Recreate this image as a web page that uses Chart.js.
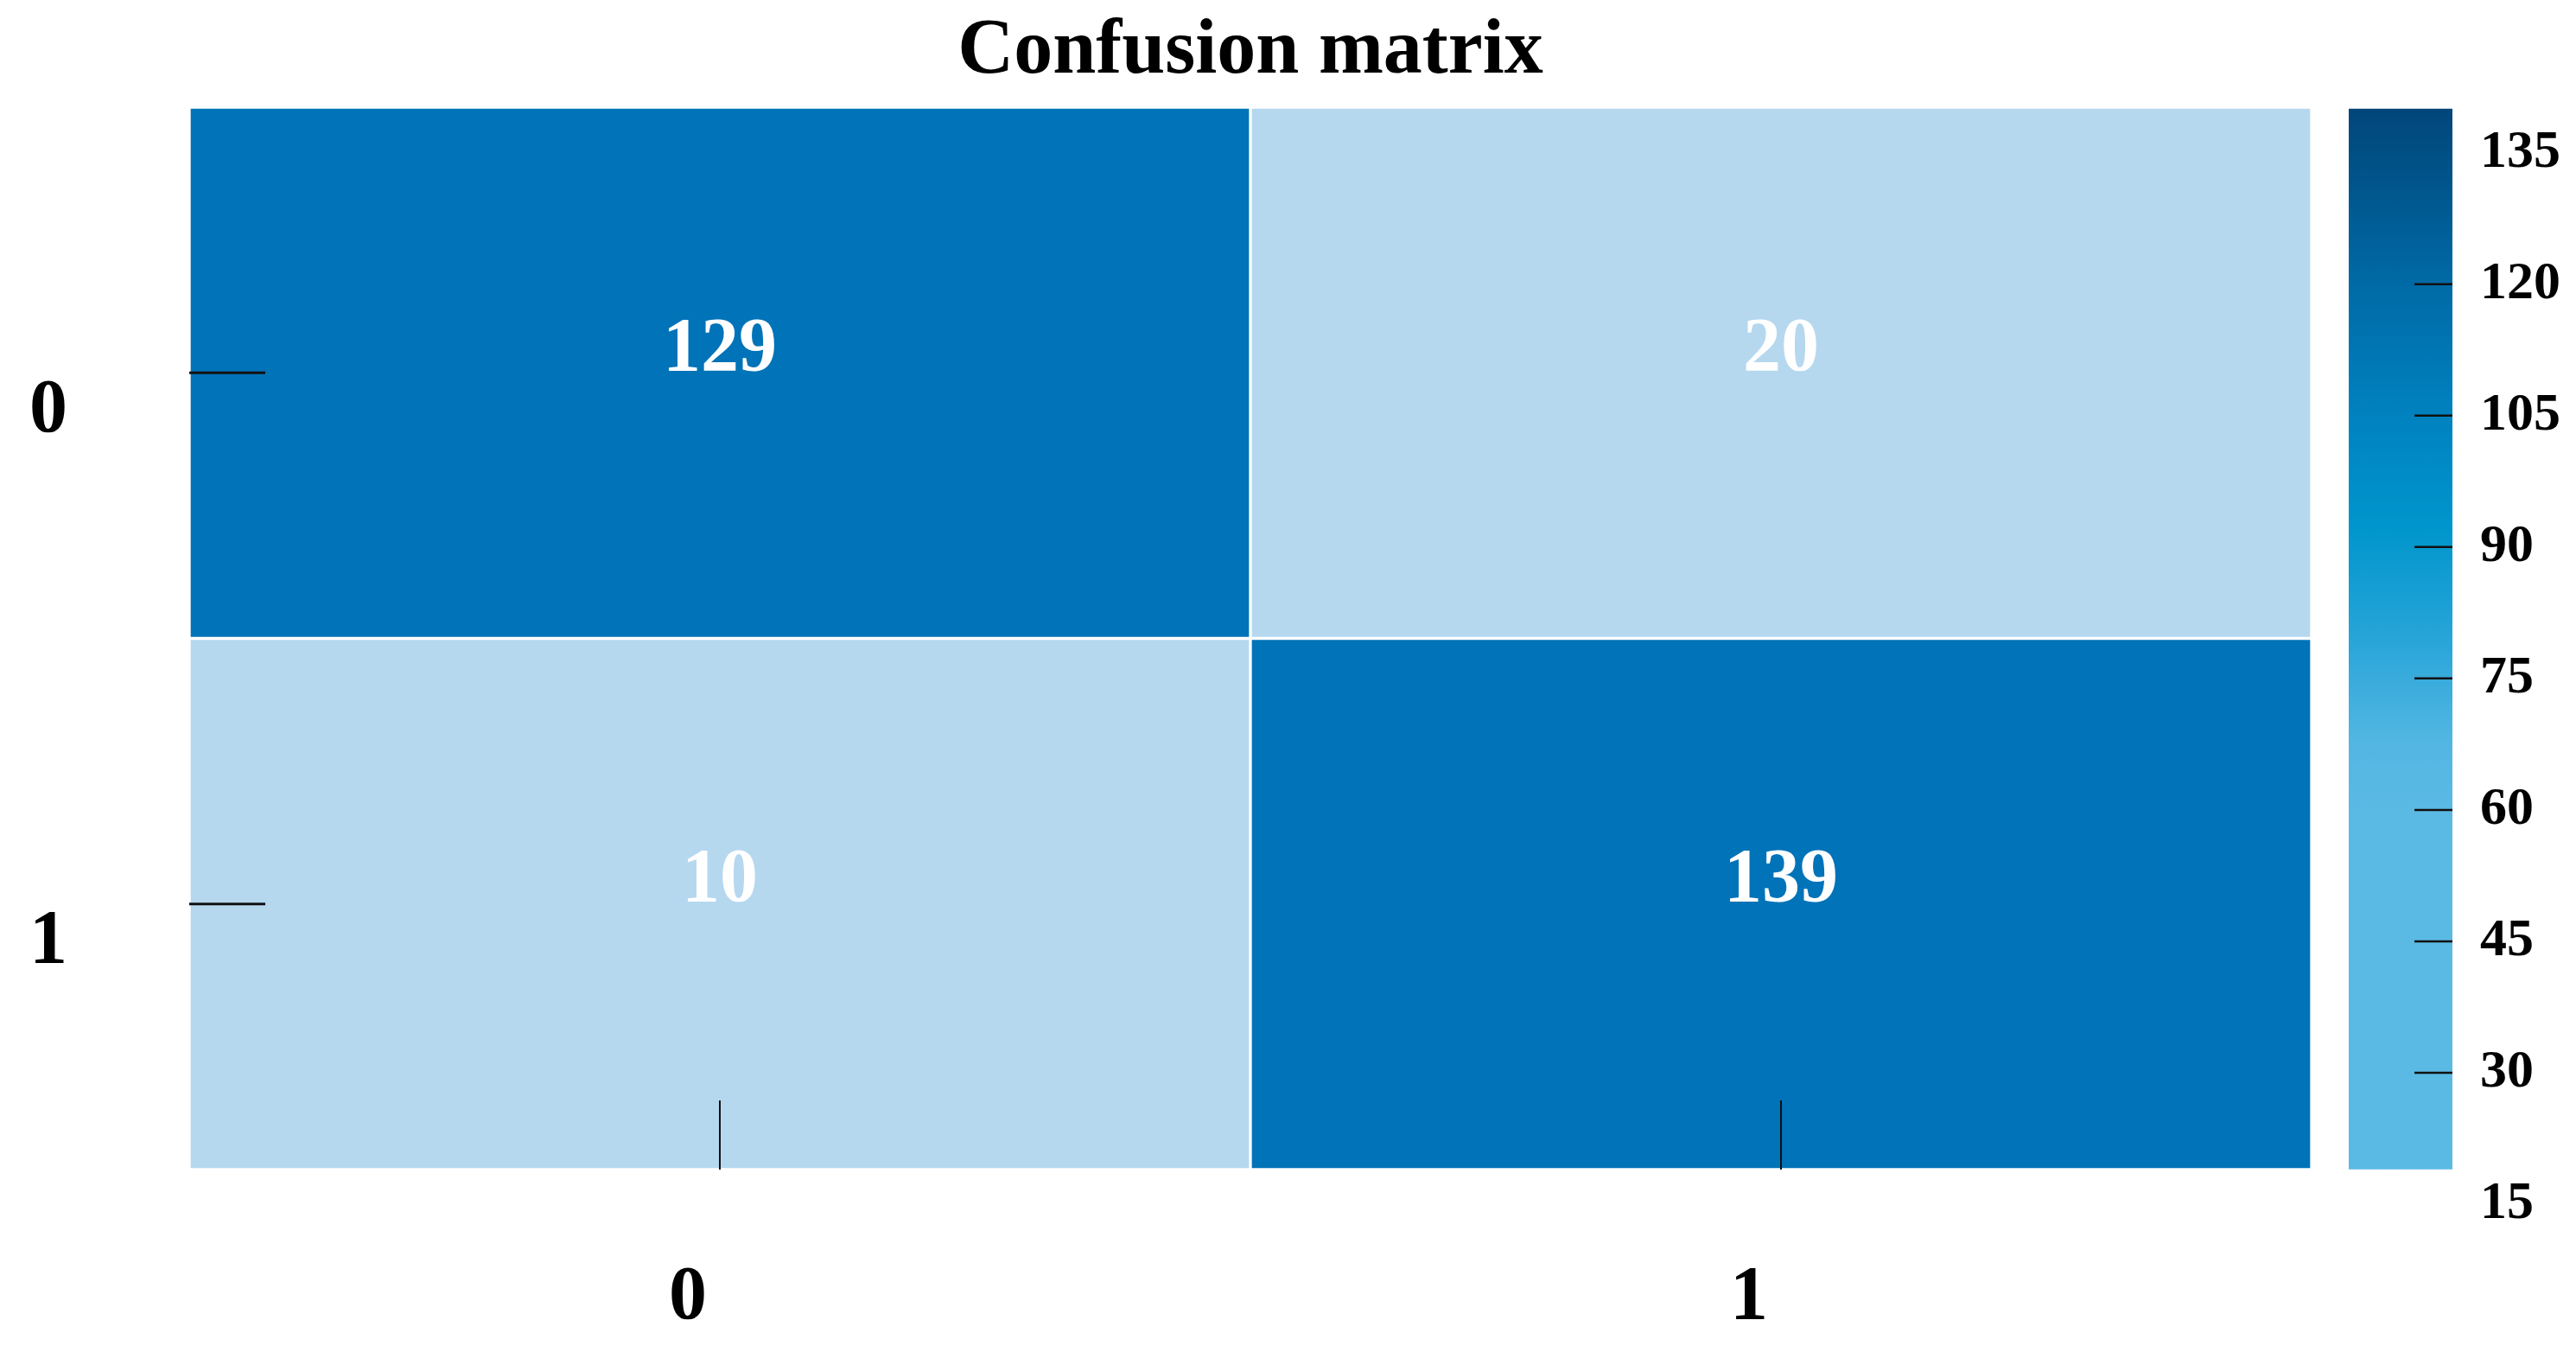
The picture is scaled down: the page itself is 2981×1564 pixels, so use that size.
<!DOCTYPE html>
<html lang="en">
<head>
    <meta charset="UTF-8">
    <title>Confusion matrix</title>
    <style>
        body {
            margin: 0;
            background-color: #ffffff;
        }
        .wrap {
            position: relative;
            width: 2981px;
            height: 1564px;
            overflow: hidden;
        }
        canvas {
            position: absolute;
            top: 0;
        }
        #matrixChart { left: 0; }
        #barChart { left: 2700px; }
    </style>
</head>
<body>
    <div class="wrap">
        <canvas id="matrixChart" width="2700" height="1564"></canvas>
        <canvas id="barChart" width="281" height="1564"></canvas>
    </div>

    <script src="https://cdn.jsdelivr.net/npm/chart.js"></script>
    <script>
        // data
        const rowLabels = ['0', '1'];
        const colLabels = ['0', '1'];
        const row0 = [129, 20];
        const row1 = [10, 139];
        const colorbarTicks = [15, 30, 45, 60, 75, 90, 105, 120, 135];
        const cbMin = 19;
        const cbMax = 140;

        const serif = "'Liberation Serif', 'Times New Roman', serif";

        function cellColor(v) {
            return v > 75 ? '#0173b8' : '#b5d8ef';
        }

        // colormap stops for the colour bar (value, colour)
        const cmap = [
            [140, '#02467a'], [128, '#005b93'], [120, '#006aa6'], [105, '#0082bf'],
            [92, '#0096cc'], [80, '#26a4d8'], [68, '#52b6e2'], [60, '#5bbae4'], [19, '#5bbae4']
        ];

        // write counts in the middle of each cell
        const cellText = {
            id: 'cellText',
            afterDatasetsDraw(chart) {
                const ctx = chart.ctx;
                ctx.save();
                ctx.font = 'bold 88px ' + serif;
                ctx.fillStyle = '#ffffff';
                ctx.textAlign = 'center';
                ctx.textBaseline = 'middle';
                chart.data.datasets.forEach((ds, i) => {
                    if (!ds.counts) return;
                    chart.getDatasetMeta(i).data.forEach((bar, j) => {
                        ctx.fillText(String(ds.counts[j]), bar.x, (bar.y + bar.base) / 2 - 26);
                    });
                });
                ctx.restore();
            }
        };

        const rows = [row0, row1];
        const cellSets = rows.map((vals, r) => ({
            type: 'bar',
            label: 'true ' + rowLabels[r],
            data: vals.map(() => [r, r + 1]),
            counts: vals,
            backgroundColor: vals.map(cellColor),
            borderColor: '#ffffff',
            borderWidth: 2,
            borderSkipped: false,
            grouped: false,
            barPercentage: 1,
            categoryPercentage: 1,
            order: 1
        }));

        new Chart(document.getElementById('matrixChart'), {
            type: 'bar',
            data: {
                labels: colLabels,
                datasets: cellSets.concat([
                    {
                        type: 'line',
                        xAxisID: 'xm',
                        showLine: false,
                        clip: 0,
                        order: 0,
                        data: rowLabels.map((_, i) => ({ x: 0, y: i + 0.5 })),
                        pointStyle: 'line',
                        pointRadius: 88,
                        pointBorderColor: '#111111',
                        pointBorderWidth: 3
                    },
                    {
                        type: 'line',
                        xAxisID: 'xm',
                        showLine: false,
                        clip: 0,
                        order: 0,
                        data: colLabels.map((_, j) => ({ x: j + 0.5, y: 2 })),
                        pointStyle: 'line',
                        pointRotation: 90,
                        pointRadius: 80,
                        pointBorderColor: '#111111',
                        pointBorderWidth: 2
                    }
                ])
            },
            options: {
                responsive: false,
                animation: false,
                events: [],
                layout: { autoPadding: false, padding: { left: 34, right: 25, top: 0, bottom: 0 } },
                plugins: {
                    legend: { display: false },
                    tooltip: { enabled: false },
                    title: {
                        display: true,
                        text: 'Confusion matrix',
                        color: '#000000',
                        fullSize: false,
                        font: { family: serif, size: 90, weight: 'bold' },
                        padding: { top: 7, bottom: 9 }
                    }
                },
                scales: {
                    x: {
                        type: 'category',
                        offset: true,
                        grid: { display: false, drawTicks: false },
                        border: { display: false },
                        ticks: {
                            color: '#000000',
                            font: { family: serif, size: 88, weight: 'bold' },
                            padding: 96,
                            labelOffset: -37
                        },
                        afterFit(scale) { scale.height = 211; }
                    },
                    xm: { type: 'linear', min: 0, max: 2, offset: false, display: false },
                    y: {
                        type: 'linear',
                        min: 0,
                        max: 2,
                        reverse: true,
                        afterBuildTicks(scale) {
                            scale.ticks = rowLabels.map((_, i) => ({ value: i + 0.5 }));
                        },
                        grid: { display: false, drawTicks: false },
                        border: { display: false },
                        ticks: {
                            color: '#000000',
                            crossAlign: 'far',
                            labelOffset: 45,
                            font: { family: serif, size: 88, weight: 'bold' },
                            callback: (v, i) => rowLabels[i]
                        },
                        afterFit(scale) { scale.width = 185; }
                    }
                }
            },
            plugins: [cellText]
        });

        // colour bar
        function barGradient(context) {
            const chart = context.chart;
            if (!chart.chartArea) return null;
            const y = chart.scales.y;
            const g = chart.ctx.createLinearGradient(0, y.getPixelForValue(cbMax), 0, y.getPixelForValue(cbMin));
            cmap.forEach(([v, c]) => g.addColorStop((cbMax - v) / (cbMax - cbMin), c));
            return g;
        }

        new Chart(document.getElementById('barChart'), {
            type: 'bar',
            data: {
                labels: [''],
                datasets: [
                    {
                        type: 'bar',
                        data: [[cbMin, cbMax]],
                        backgroundColor: barGradient,
                        borderWidth: 0,
                        grouped: false,
                        barPercentage: 1,
                        categoryPercentage: 1,
                        order: 1
                    },
                    {
                        type: 'line',
                        xAxisID: 'xm',
                        showLine: false,
                        clip: 0,
                        order: 0,
                        data: colorbarTicks.slice(1, -1).map(v => ({ x: 1, y: v })),
                        pointStyle: 'line',
                        pointRadius: 44,
                        pointBorderColor: '#111111',
                        pointBorderWidth: 2.5
                    }
                ]
            },
            options: {
                responsive: false,
                animation: false,
                events: [],
                layout: { autoPadding: false, padding: { left: 18, right: 0, top: 124, bottom: 171 } },
                plugins: {
                    legend: { display: false },
                    tooltip: { enabled: false }
                },
                scales: {
                    x: { display: false },
                    xm: { type: 'linear', min: 0, max: 1, offset: false, display: false },
                    y: {
                        position: 'right',
                        min: 15,
                        max: 140.2,
                        afterBuildTicks(scale) {
                            scale.ticks = colorbarTicks.map(v => ({ value: v }));
                        },
                        grid: { display: false, drawTicks: false },
                        border: { display: false },
                        ticks: {
                            color: '#000000',
                            padding: 32,
                            font: { family: serif, size: 62, weight: 'bold' }
                        },
                        afterFit(scale) { scale.width = 143; }
                    }
                }
            }
        });
    </script>
</body>
</html>
